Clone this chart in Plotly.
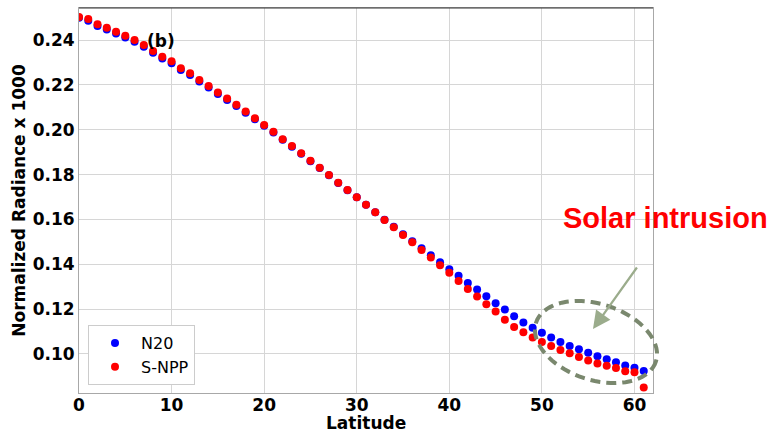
import math
import plotly.graph_objects as go

latitude = list(range(0, 62))

n20 = [0.2499, 0.2486, 0.2463, 0.2447, 0.2429, 0.2411, 0.2392, 0.2370, 0.2343, 0.2318,
       0.2297, 0.2266, 0.2244, 0.2215, 0.2188, 0.2159, 0.2133, 0.2106, 0.2076, 0.2047,
       0.2018, 0.1988, 0.1955, 0.1924, 0.1893, 0.1860, 0.1829, 0.1797, 0.1763, 0.1730,
       0.1699, 0.1665, 0.1632, 0.1599, 0.1567, 0.1534, 0.1503, 0.1471, 0.1440, 0.1409,
       0.1378, 0.1349, 0.1317, 0.1288, 0.1257, 0.1226, 0.1198, 0.1168, 0.1140, 0.1117,
       0.1095, 0.1073, 0.1054, 0.1036, 0.1021, 0.1005, 0.0990, 0.0977, 0.0963, 0.0949,
       0.0939, 0.0924]

snpp = [0.2503, 0.2494, 0.2471, 0.2455, 0.2437, 0.2419, 0.2400, 0.2378, 0.2351, 0.2326,
        0.2306, 0.2274, 0.2252, 0.2222, 0.2195, 0.2166, 0.2139, 0.2111, 0.2081, 0.2051,
        0.2021, 0.1991, 0.1958, 0.1927, 0.1895, 0.1862, 0.1830, 0.1798, 0.1764, 0.1731,
        0.1699, 0.1665, 0.1632, 0.1598, 0.1565, 0.1531, 0.1498, 0.1464, 0.1430, 0.1396,
        0.1362, 0.1325, 0.1290, 0.1256, 0.1222, 0.1189, 0.1153, 0.1120, 0.1097, 0.1074,
        0.1054, 0.1036, 0.1018, 0.1003, 0.0986, 0.0971, 0.0958, 0.0948, 0.0938, 0.0923,
        0.0919, 0.0850]

x_ticks = [0, 10, 20, 30, 40, 50, 60]
y_ticks = [0.10, 0.12, 0.14, 0.16, 0.18, 0.20, 0.22, 0.24]

W, H = 769, 434
ML, MR, MT, MB = 79, 116, 8, 41
PW, PH = W - ML - MR, H - MT - MB


def to_paper(px, py):
    return (px - ML) / PW, (H - MB - py) / PH


fig = go.Figure()
fig.add_trace(go.Scatter(x=latitude, y=n20, mode="markers", name="N20",
                         marker=dict(color="#0000ff", size=8)))
fig.add_trace(go.Scatter(x=latitude, y=snpp, mode="markers", name="S-NPP",
                         marker=dict(color="#ff0000", size=8)))

axfont = dict(family="DejaVu Sans", size=17, color="black", weight="bold")

fig.update_xaxes(range=[0, 62], tickvals=x_ticks, showgrid=True, gridcolor="#d6d6d6",
                 gridwidth=1, showline=True, linecolor="#a8a8a8", linewidth=1, mirror=True,
                 ticks="", ticklen=0, ticklabelstandoff=-3, tickfont=axfont,
                 automargin=False, zeroline=False)
fig.update_yaxes(range=[0.0826, 0.2543], tickvals=y_ticks, tickformat=".2f", showgrid=True,
                 gridcolor="#d6d6d6", gridwidth=1, showline=True, linecolor="#a8a8a8",
                 linewidth=1, mirror=True, ticks="", tickfont=axfont, automargin=False,
                 zeroline=False,
                 title=dict(text="Normalized Radiance x 1000", font=axfont, standoff=2))

# x axis title, sitting on the bottom edge of the figure
lt_x, _ = to_paper(366, 426)
fig.add_annotation(x=lt_x, y=0, yref="paper", xref="paper", yshift=-MB,
                   text="Latitude", showarrow=False, xanchor="center", yanchor="bottom",
                   borderpad=0, font=axfont)

# top spine darker
fig.add_shape(type="line", xref="paper", yref="paper", x0=0, x1=1, y0=1, y1=1,
              line=dict(color="#333333", width=1))

# dashed ellipse (solar intrusion region)
cx, cy, a, b, th = 596, 342, 63, 38, math.radians(18)
pts = []
for k in range(73):
    t = 2 * math.pi * k / 72
    X = cx + a * math.cos(t) * math.cos(th) - b * math.sin(t) * math.sin(th)
    Y = cy + a * math.cos(t) * math.sin(th) + b * math.sin(t) * math.cos(th)
    pts.append(to_paper(X, Y))
path = "M " + " L ".join(f"{p[0]:.5f},{p[1]:.5f}" for p in pts) + " Z"
fig.add_shape(type="path", xref="paper", yref="paper", path=path,
              line=dict(color="rgb(122,136,110)", width=4, dash="10px,6px"))

# arrow
tx, ty = to_paper(593, 329)
fig.add_annotation(x=tx, y=ty, xref="paper", yref="paper", ax=45, ay=-63,
                   showarrow=True, arrowhead=2, arrowsize=1.6, arrowwidth=2.2,
                   arrowcolor="rgb(155,172,140)", text="")

sx, sy = to_paper(665, 218)
fig.add_annotation(x=sx, y=sy, xref="paper", yref="paper", text="Solar intrusion",
                   showarrow=False, xanchor="center", yanchor="middle",
                   font=dict(family="Liberation Sans, Arial", size=29, color="#ff0000",
                             weight="bold"))

fig.add_annotation(x=8.9, y=0.2396, text="(b)", showarrow=False,
                   font=dict(family="DejaVu Sans", size=17, color="black", weight="bold"))

lx, ly = to_paper(88, 385)
fig.update_layout(
    width=W, height=H,
    margin=dict(l=ML, r=MR, t=MT, b=MB),
    paper_bgcolor="white", plot_bgcolor="white",
    showlegend=True,
    legend=dict(x=lx, y=ly, xanchor="left", yanchor="bottom",
                bgcolor="white", bordercolor="#cccccc", borderwidth=1,
                itemwidth=42, tracegroupgap=0,
                font=dict(family="DejaVu Sans", size=16, color="black")),
)

fig.write_html("out.html")
